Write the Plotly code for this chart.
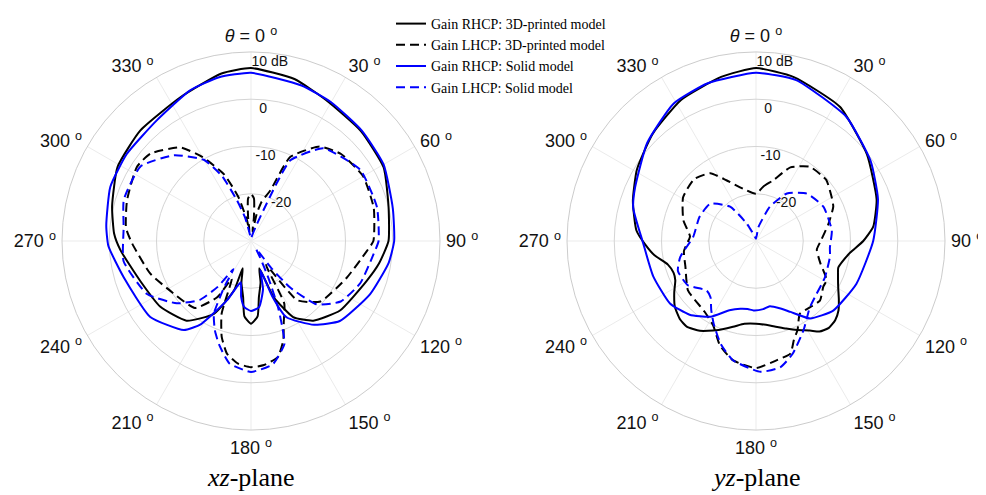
import plotly.graph_objects as go

# ---------------- data (dB vs theta in degrees) ----------------
# xz-plane
xz_rhcp_3d_theta = [0, 15, 28, 45, 61, 76, 90, 100, 109, 128, 142, 151, 158, 163, 167, 172, 175, 180, 185, 188,
                    193, 197, 199, 207, 219, 234, 250, 266, 273, 284, 299, 315, 334, 350, 360]
xz_rhcp_3d = [6.6, 5.5, 3.8, 2.9, 2.1, 0.0, -0.9, -2.5, -4.1, -6.1, -8.6, -11.6, -17.2, -24, -21, -18, -14, -12.5, -14, -18,
              -21, -24, -18.9, -12.7, -8.3, -6.3, -5.1, -2.3, -1.0, 0.3, 2.3, 3.1, 3.9, 6.0, 6.6]

xz_lhcp_3d_theta = [0, 4, 7, 9, 12, 15, 21, 25, 36, 46, 60, 75, 90, 95, 111, 131, 142, 148, 152, 158,
                    162, 167, 174, 180, 186, 192, 197, 202, 207, 211, 220, 236, 252, 269, 276, 288, 303, 311, 323, 330,
                    338, 344, 349, 351, 353, 356, 360]
xz_lhcp_3d = [-20, -21, -25, -28, -24, -21.5, -18.5, -10.4, -5.3, -3.5, -2.6, -3.1, -4.1, -5.4, -8.3, -10.5, -14.1, -24, -15, -11.5,
              -7.9, -4.8, -3.6, -3.3, -3.9, -5.6, -8.8, -13.4, -21, -16.1, -11.5, -10.2, -7.6, -4.8, -3.4, -2.4, -1.2, -1.8, -5.2, -9.5,
              -14.8, -20.3, -25.5, -28, -25, -21, -20]

xz_rhcp_solid_theta = [0, 18, 30, 45, 60, 77, 90, 99, 114, 132, 143, 155, 159, 162, 166, 173, 180, 186, 190, 194,
                       202, 211, 217, 233, 254, 268, 276, 291, 305, 322, 338, 349, 360]
xz_rhcp_solid = [5.6, 4.6, 3.9, 3.1, 2.4, 0.8, 0.3, -0.5, -2.4, -4.7, -7.8, -12.2, -17.5, -23.5, -19.5, -15.9, -15.2, -16, -18, -21,
                 -16.5, -9.5, -6.4, -3.3, -2.0, 0.2, 0.8, 1.9, 2.1, 2.4, 4.4, 5.3, 5.6]

xz_lhcp_solid_theta = [0, 10, 18, 21, 24, 26, 38, 57, 75, 90, 96, 111, 124, 134, 140, 143, 147, 151, 155, 158,
                       160, 162, 170, 180, 190, 197, 202, 207, 210, 212, 216, 221, 230, 243, 261, 276, 288, 304, 318, 330,
                       336, 341, 346, 350, 355, 360]
xz_lhcp_solid = [-29.5, -29, -27, -24.6, -16.7, -11, -5.1, -2.4, -2.4, -3.0, -3.9, -5.2, -7.1, -10.7, -17.2, -22.7, -28, -26, -21, -14.5,
                 -10.7, -7.1, -3.5, -2.3, -3.7, -7, -9.6, -12.7, -18.5, -23, -18, -13.5, -9.5, -5.3, -2.7, -2.9, -1.7, -1.8, -5.6, -10.2,
                 -15, -20.9, -25, -28.5, -29.5, -29.5]

# yz-plane
yz_rhcp_3d_theta = [0, 13, 32, 52, 71, 83, 90, 97, 104, 108, 114, 120, 125, 130, 135, 140, 145, 149, 155, 161,
                    170, 180, 188, 195, 204, 212, 219, 224, 231, 238, 244, 249, 255, 262, 268, 275, 288, 301, 316, 332,
                    348, 360]
yz_rhcp_3d = [6.6, 5.6, 3.5, -0.2, -3.0, -5.0, -7.3, -9.9, -11.3, -11.7, -11.0, -9.9, -8.6, -7.2, -6.3, -6.0, -6.6, -7.9, -9.2, -10.4,
              -11.8, -12.5, -12.3, -11.2, -9.3, -7.6, -6.7, -6.9, -7.9, -9.6, -11.0, -11.3, -10.7, -8.3, -6.6, -4.6, -2.6, -0.6, 1.5, 3.8,
              5.5, 6.6]

yz_lhcp_3d_theta = [0, 8, 16, 25, 36, 49, 60, 66, 77, 90, 98, 109, 119, 124, 133, 141, 149, 155, 159, 163,
                    170, 180, 191, 199, 207, 216, 234, 250, 262, 268, 274, 286, 301, 315, 326, 334, 346, 360]
yz_lhcp_3d = [-20, -18.3, -16.6, -12.8, -10.6, -10.3, -11.5, -12.1, -14.3, -16.3, -17, -15.6, -12.9, -12.8, -11.5, -11.9, -12.0, -9.2, -7.6, -5.1,
              -4.4, -3.1, -4.3, -6.6, -10, -11.5, -12.2, -14.1, -14.6, -15.4, -16, -14.0, -12, -11.5, -12.7, -15.7, -18.6, -20]

yz_rhcp_solid_theta = [0, 14, 36, 55, 71, 90, 113, 132, 145, 154, 160, 168, 174, 182, 187, 193, 201, 211, 222, 234,
                       251, 269, 285, 294, 312, 329, 343, 360]
yz_rhcp_solid = [5.6, 5.1, 2.5, -0.4, -2.7, -5.2, -6.9, -8.0, -10.0, -13.3, -14.8, -15.9, -15.5, -15.3, -15.5, -15.3, -14.3, -11.3, -9.0, -7.5,
                 -7.0, -6.1, -3.1, -2.0, 1.0, 3.9, 4.9, 5.6]

yz_lhcp_solid_theta = [0, 10, 22, 33, 47, 63, 82, 95, 102, 118, 131, 141, 152, 162, 169, 178, 191, 199, 207, 213,
                       219, 225, 237, 249, 258, 274, 293, 309, 323, 332, 345, 360]
yz_lhcp_solid = [-29.5, -27, -22.2, -18, -15.3, -14, -13.8, -14.3, -14, -13.5, -13, -11.9, -8.6, -4.9, -2.8, -2.3, -4.3, -7, -10.3, -12.6,
                 -14.7, -15.2, -12.8, -12.3, -13.6, -16.7, -17.0, -17.5, -20.9, -25.8, -29, -29.5]

series_names = ["Gain RHCP: 3D-printed model", "Gain LHCP: 3D-printed model",
                "Gain RHCP: Solid model", "Gain LHCP: Solid model"]

angle_ticks = [0, 30, 60, 90, 120, 150, 180, 210, 240, 270, 300, 330]
angle_labels = ["<i>θ</i> = 0 <sup>o</sup>", "30 <sup>o</sup>", "60 <sup>o</sup>", "90 <sup>o</sup>",
                "120 <sup>o</sup>", "150 <sup>o</sup>", "180 <sup>o</sup>", "210 <sup>o</sup>",
                "240 <sup>o</sup>", "270 <sup>o</sup>", "300 <sup>o</sup>", "330 <sup>o</sup>"]
r_ticks = [-20, -10, 0, 10]
r_labels = ["<br>\u00a0\u00a0\u00a0\u00a0\u00a0-20", "<br>\u00a0-10", "<br>\u00a0\u00a00", "<br>10 dB"]
plane_titles = ["<i>xz</i>-plane", "<i>yz</i>-plane"]

# ---------------- figure ----------------
BLACK = "#000000"
BLUE = "#0000ff"
DASH = "9px,5px"
W, H = 978, 487   # the page has an 8px body margin

fig = go.Figure()

def add(theta, r, name, color, dash, subplot, show):
    fig.add_trace(go.Scatterpolar(
        theta=theta, r=r, mode="lines", name=name, subplot=subplot, showlegend=show,
        line=dict(color=color, width=2, dash=dash, shape="spline", smoothing=0.5),
        hoverinfo="skip"))

planes = [
    ("polar", [xz_rhcp_3d_theta, xz_lhcp_3d_theta, xz_rhcp_solid_theta, xz_lhcp_solid_theta],
     [xz_rhcp_3d, xz_lhcp_3d, xz_rhcp_solid, xz_lhcp_solid], True),
    ("polar2", [yz_rhcp_3d_theta, yz_lhcp_3d_theta, yz_rhcp_solid_theta, yz_lhcp_solid_theta],
     [yz_rhcp_3d, yz_lhcp_3d, yz_rhcp_solid, yz_lhcp_solid], False),
]
styles = [(BLACK, "solid"), (BLACK, DASH), (BLUE, "solid"), (BLUE, DASH)]
for sp, thetas, rs, show in planes:
    for i in range(4):
        add(thetas[i], rs[i], series_names[i], styles[i][0], styles[i][1], sp, show)

def px_x(x):
    return (x - 8) / W

def px_y(y):
    return 1 - (y - 8) / H

def polar_layout(x0, x1):
    return dict(
        domain=dict(x=[px_x(x0), px_x(x1)], y=[px_y(430), px_y(52)]),
        bgcolor="white",
        angularaxis=dict(rotation=90, direction="clockwise", tickmode="array",
                         tickvals=angle_ticks, ticktext=angle_labels,
                         showline=True, linecolor="#cccccc", linewidth=1,
                         gridcolor="#ebebeb", gridwidth=1,
                         ticks="outside", ticklen=2, tickcolor="rgba(0,0,0,0)",
                         tickfont=dict(family="Liberation Sans", size=18, color="#111111")),
        radialaxis=dict(range=[-30, 10], tickmode="array", tickvals=r_ticks, ticktext=r_labels,
                        showline=False, ticks="", gridcolor="#d4d4d4", gridwidth=1,
                        angle=90, tickangle=90, side="clockwise",
                        tickfont=dict(family="Liberation Sans", size=14, color="#111111")),
    )

fig.update_layout(
    width=W, height=H,
    margin=dict(l=0, r=0, t=0, b=0),
    paper_bgcolor="white",
    polar=polar_layout(62, 440),
    polar2=polar_layout(567, 945),
    showlegend=True,
    legend=dict(x=px_x(391), y=1.0, xanchor="left", yanchor="top", bgcolor="rgba(0,0,0,0)",
                font=dict(family="Liberation Serif", size=14, color="#000"),
                tracegroupgap=0, itemwidth=30),
    annotations=[
        dict(text=plane_titles[0], x=px_x(251), y=px_y(477), xref="paper", yref="paper", showarrow=False,
             xanchor="center", yanchor="middle",
             font=dict(family="Liberation Serif", size=26, color="#000")),
        dict(text=plane_titles[1], x=px_x(756), y=px_y(477), xref="paper", yref="paper", showarrow=False,
             xanchor="center", yanchor="middle",
             font=dict(family="Liberation Serif", size=26, color="#000")),
    ],
)

fig.write_html("out.html")
